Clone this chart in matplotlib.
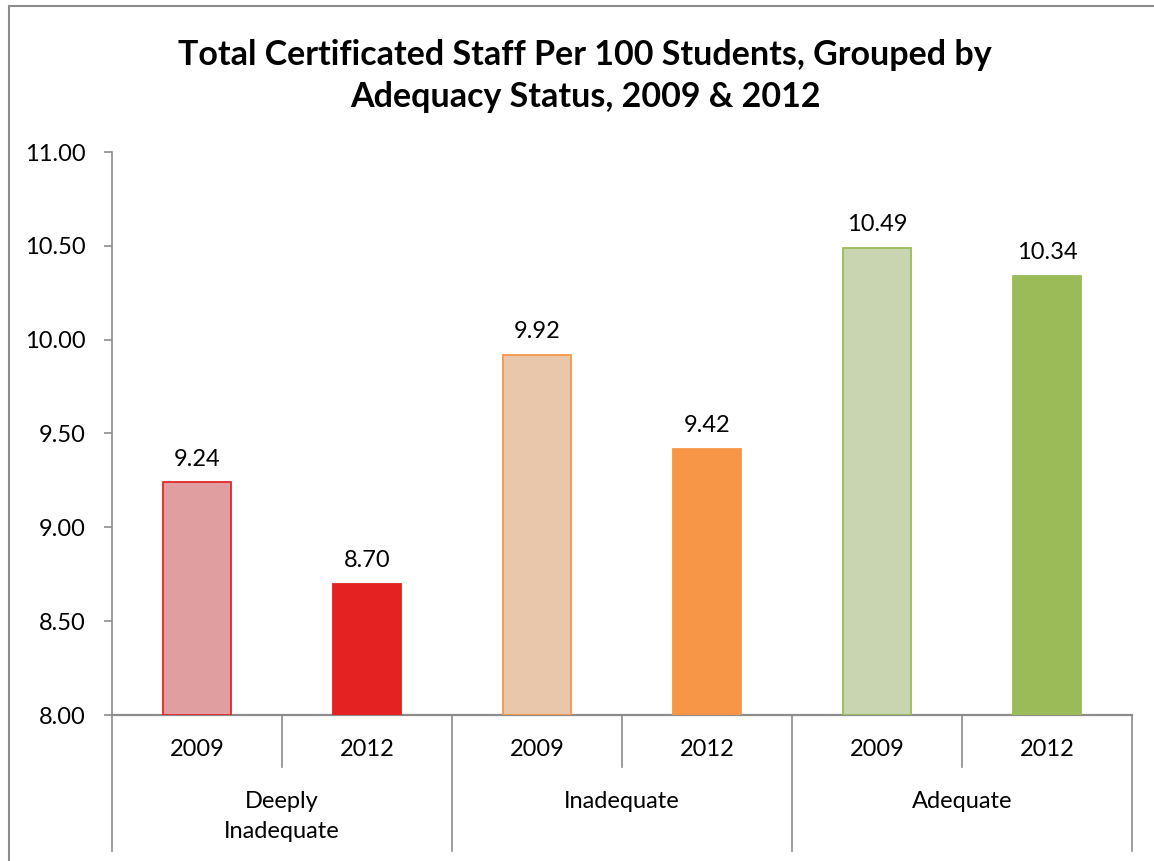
import matplotlib.pyplot as plt
from matplotlib.patches import Rectangle

plt.rcParams['font.family'] = ['Lato', 'DejaVu Sans']

groups = ["Deeply\nInadequate", "Inadequate", "Adequate"]
years = ["2009", "2012"]
values = [9.24, 8.70, 9.92, 9.42, 10.49, 10.34]
fills = ["#E09EA0", "#E42222", "#E9C7AA", "#F79646", "#C9D5B0", "#9BBB59"]
edges = ["#E02828", "#E42222", "#F79646", "#F79646", "#9BBB59", "#9BBB59"]
yticks = [8.0, 8.5, 9.0, 9.5, 10.0, 10.5, 11.0]

W, H = 1154, 861
fig = plt.figure(figsize=(W / 100, H / 100), dpi=100)
ax = fig.add_axes([112 / W, 1 - 715 / H, (1132 - 112) / W, (715 - 152) / H])

grey = "#8C8C8C"
fs = 17
xs = [i + 0.5 for i in range(len(values))]
ax.bar(xs, [v - 8 for v in values], bottom=8, width=0.4,
       color=fills, edgecolor=edges, linewidth=1.3, zorder=3)

for x, v in zip(xs, values):
    ax.annotate(f"{v:.2f}", (x, v), xytext=(0, 9), textcoords="offset points",
                ha="center", va="bottom", fontsize=fs)

ax.set_xlim(0, 6)
ax.set_ylim(8, 11)
ax.set_yticks(yticks)
ax.set_yticklabels([f"{t:.2f}" for t in yticks], fontsize=fs)
ax.tick_params(axis="y", length=6, color=grey, width=1.2, pad=13)
ax.set_xticks([])
for s in ["top", "right"]:
    ax.spines[s].set_visible(False)
ax.spines["left"].set_color(grey)
ax.spines["bottom"].set_color(grey)
ax.spines["left"].set_linewidth(1.2)
ax.spines["bottom"].set_linewidth(1.6)

# two-level category axis: year row and group row
tr = ax.get_xaxis_transform()
px = 1 / (715 - 152)
for i in range(7):
    depth = 136 if i % 2 == 0 else 52
    ax.plot([i, i], [0, -depth * px], transform=tr, color=grey, lw=1.2, clip_on=False)
for i, x in enumerate(xs):
    ax.text(x, -35 * px, years[i % 2], transform=tr, ha="center", va="center", fontsize=fs)
for g, name in enumerate(groups):
    ax.text(2 * g + 1, -76 * px, name, transform=tr, ha="center", va="top",
            fontsize=fs, linespacing=1.55)

fig.text(585 / W, 1 - 76 / H,
         "Total Certificated Staff Per 100 Students, Grouped by\nAdequacy Status, 2009 & 2012",
         ha="center", va="center", fontsize=24.5, fontweight="bold", linespacing=1.38)

# outer chart frame
fig.add_artist(Rectangle((9 / W, -0.1), 1.2, 1 - 6 / H + 0.1, transform=fig.transFigure,
                         fill=False, edgecolor="#8C8C8C", lw=1.5))

fig.savefig("out.png", dpi=100)
